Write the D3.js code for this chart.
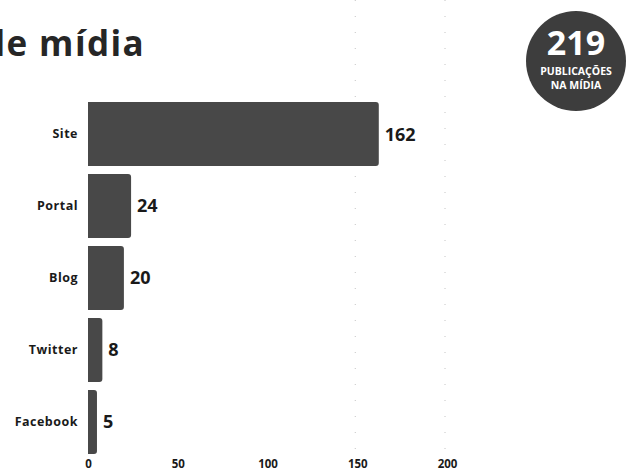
<!DOCTYPE html>
<html>
<head>
<meta charset="utf-8">
<script src="https://cdn.jsdelivr.net/npm/d3@7"></script>
<style>
  html, body { margin: 0; padding: 0; background: #fff; }
  svg { display: block; }
  text { font-family: "Open Sans", "DejaVu Sans", sans-serif; font-weight: 700; }
</style>
</head>
<body>
<svg id="chart" width="635" height="473"></svg>
<script>
const categories = ["Site", "Portal", "Blog", "Twitter", "Facebook"];
const values = [162, 24, 20, 8, 5];
const tickValues = [0, 50, 100, 150, 200];
const titleText = "de mídia";
const badgeNumber = "219";
const badgeLines = ["PUBLICAÇÕES", "NA MÍDIA"];

const svg = d3.select("#chart");

const x = d3.scaleLinear().domain([0, 200]).range([88, 447]);
const y = d3.scaleBand().domain(categories).range([102, 454]).paddingInner(0.11).paddingOuter(0.0);

// faint dotted grid (scan artefacts)
svg.append("g").selectAll("line")
  .data([150, 200])
  .join("line")
  .attr("x1", d => x(d) - 2).attr("x2", d => x(d) - 2)
  .attr("y1", 0).attr("y2", 455)
  .attr("stroke", "#c4c4c4").attr("stroke-width", 1)
  .attr("stroke-dasharray", "1,15");

// title (partially off the left edge, as in the reference)
svg.append("text")
  .attr("x", -17).attr("y", 56)
  .attr("font-size", 35)
  .attr("letter-spacing", 1.4)
  .attr("fill", "#262626")
  .text(titleText);

// bars
const barColor = "#484848";
svg.append("g").selectAll("path")
  .data(values)
  .join("path")
  .attr("fill", barColor)
  .attr("d", (d, i) => {
    const x0 = x(0), x1 = x(d), y0 = y(categories[i]), h = y.bandwidth();
    const r = Math.min(3, (x1 - x0) / 2);
    return `M${x0},${y0} H${x1 - r} Q${x1},${y0} ${x1},${y0 + r} V${y0 + h - r} Q${x1},${y0 + h} ${x1 - r},${y0 + h} H${x0} Z`;
  });

// value labels
svg.append("g").selectAll("text")
  .data(values)
  .join("text")
  .attr("x", d => x(d) + 6)
  .attr("y", (d, i) => y(categories[i]) + y.bandwidth() / 2)
  .attr("dy", "0.36em")
  .attr("font-size", 18)
  .attr("fill", "#1a1a1a")
  .text(d => d);

// category axis labels
svg.append("g").selectAll("text")
  .data(categories)
  .join("text")
  .attr("x", 78)
  .attr("y", d => y(d) + y.bandwidth() / 2)
  .attr("dy", "0.35em")
  .attr("text-anchor", "end")
  .attr("font-size", 12.5)
  .attr("letter-spacing", 0.5)
  .attr("fill", "#1a1a1a")
  .text(d => d);

// x axis
const xAxis = d3.axisBottom(x).tickValues(tickValues).tickSize(0).tickPadding(0);
const gx = svg.append("g").attr("transform", "translate(0,460)").call(xAxis);
gx.select(".domain").remove();
gx.selectAll("text")
  .attr("font-size", 11.5)
  .attr("font-family", "'Open Sans', sans-serif")
  .attr("font-weight", 700)
  .attr("fill", "#1a1a1a");

// badge
const badge = svg.append("g").attr("transform", "translate(576,61)");
badge.append("circle").attr("r", 50).attr("fill", "#3d3d3d");
badge.append("text")
  .attr("y", -6).attr("text-anchor", "middle")
  .attr("font-size", 34).attr("font-weight", 800).attr("fill", "#fff")
  .text(badgeNumber);
badge.append("text")
  .attr("y", 14).attr("text-anchor", "middle")
  .attr("font-size", 10.5).attr("fill", "#fff")
  .text(badgeLines[0]);
badge.append("text")
  .attr("y", 28).attr("text-anchor", "middle")
  .attr("font-size", 10.5).attr("fill", "#fff")
  .text(badgeLines[1]);
</script>
</body>
</html>
